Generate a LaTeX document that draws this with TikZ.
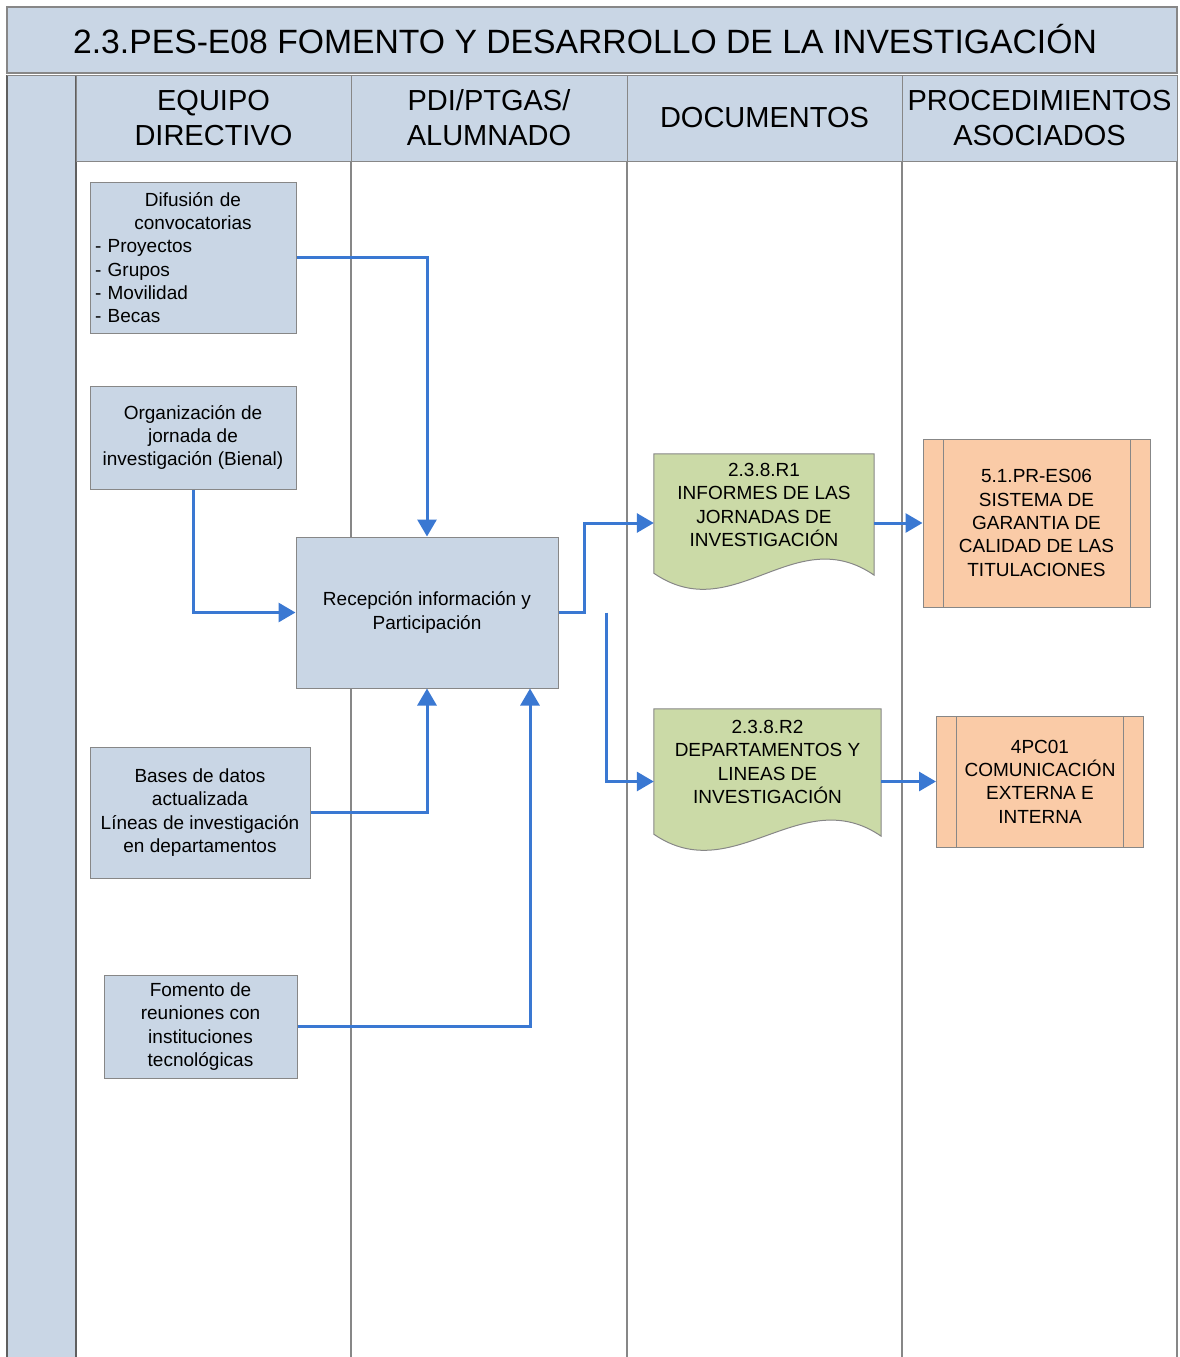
\documentclass[tikz,border=0pt]{standalone}
\usepackage{fontspec}
\setmainfont{Liberation Sans}
\usetikzlibrary{arrows.meta}
\definecolor{lanefill}{RGB}{201,214,229}
\definecolor{docfill}{RGB}{203,218,167}
\definecolor{procfill}{RGB}{250,203,167}
\definecolor{flowblue}{RGB}{58,120,210}
\definecolor{boxline}{RGB}{135,135,135}
\definecolor{laneline}{RGB}{95,95,95}
\newcommand{\boxfont}{\fontsize{19}{23.3}\selectfont}
\newcommand{\wavedoc}[3]{%
  \filldraw[draw=boxline, fill=docfill, line width=1pt] (#1.north west) -- (#1.north east)
    -- ([yshift=#2]#1.south east) .. controls +(-80pt,55pt) and +(80pt,-55pt) .. ([yshift=#3]#1.south west) -- cycle;}
\begin{document}
\begin{tikzpicture}[x=1pt, y=-1pt,
    actbox/.style={draw=boxline, fill=lanefill, line width=1pt, align=center, font=\boxfont, inner sep=5pt},
    procbox/.style={draw=boxline, fill=procfill, line width=1pt, align=center, font=\boxfont,
      path picture={
        \draw[boxline, line width=1pt] ([xshift=20pt]path picture bounding box.north west) -- ([xshift=20pt]path picture bounding box.south west);
        \draw[boxline, line width=1pt] ([xshift=-20pt]path picture bounding box.north east) -- ([xshift=-20pt]path picture bounding box.south east);}},
    doctext/.style={align=center, font=\boxfont, inner sep=0pt},
    header/.style={draw=boxline, fill=lanefill, line width=1pt, align=center, font=\fontsize{29}{35}\selectfont, inner sep=0pt},
    flow/.style={draw=flowblue, line width=3pt, -{Triangle[length=17pt,width=19pt]}}]
    \useasboundingbox (0,0) rectangle (1180,1357);

    % Marco y cabecera
    \fill[lanefill] (7,7) rectangle (1177,73);
    \draw[boxline, line width=1.2pt] (7,73) -- (7,7) -- (1177,7) -- (1177,73) -- cycle;
    \node[font=\fontsize{33.7}{40}\selectfont] (titulo) at (585,39) {2.3.PES-E08 FOMENTO Y DESARROLLO DE LA INVESTIGACIÓN};
    \fill[lanefill] (7,75) rectangle (76,1357);
    \draw[laneline, line width=1.5pt] (7,75) -- (7,1357);
    \draw[laneline, line width=1.5pt] (76,75) -- (76,1357);
    \draw[boxline, line width=1pt] (7,75) -- (76,75);

    \node[header, minimum width=275pt, minimum height=86pt] (hequipo) at (213.5,118) {EQUIPO\\DIRECTIVO};
    \node[header, minimum width=276pt, minimum height=86pt] (hpdi) at (489,118) {PDI/PTGAS/\\ALUMNADO};
    \node[header, minimum width=275pt, minimum height=86pt] (hdoc) at (764.5,118) {DOCUMENTOS};
    \node[header, minimum width=275pt, minimum height=86pt] (hproc) at (1039.5,118) {PROCEDIMIENTOS\\ASOCIADOS};
    \foreach \x in {351,627,902,1177}
        \draw[boxline, line width=1.2pt] (\x,161) -- (\x,1357);

    % Actividades
    \node[actbox, minimum width=206pt, minimum height=151pt, text width=196pt, align=left] (difusion) at (193,257.5)
        {{\centering Difusión de\\convocatorias\par}- Proyectos\\- Grupos\\- Movilidad\\- Becas};
    \node[actbox, minimum width=206pt, minimum height=103pt] (organiza) at (193,437.5) {Organización de\\jornada de\\investigación (Bienal)};
    \node[actbox, minimum width=262pt, minimum height=151pt] (recep) at (427,612.5) {Recepción información y\\Participación};
    \node[actbox, minimum width=220pt, minimum height=131pt] (bases) at (200,812.5) {Bases de datos\\actualizada\\Líneas de investigación\\en departamentos};
    \node[actbox, minimum width=193pt, minimum height=103pt] (fomento) at (200.5,1026.5) {Fomento de\\reuniones con\\instituciones\\tecnológicas};

    % Documentos
    \node[minimum width=220pt, minimum height=138pt, inner sep=0pt] (r1) at (764,523) {};
    \wavedoc{r1}{17pt}{19pt}
    \node[doctext] (r1t) at (764,505) {2.3.8.R1\\INFORMES DE LAS\\JORNADAS DE\\INVESTIGACIÓN};
    \node[minimum width=227pt, minimum height=145pt, inner sep=0pt] (r2) at (767.5,781.5) {};
    \wavedoc{r2}{18pt}{20pt}
    \node[doctext] (r2t) at (767.5,762) {2.3.8.R2\\DEPARTAMENTOS Y\\LINEAS DE\\INVESTIGACIÓN};

    % Procedimientos
    \node[procbox, minimum width=227pt, minimum height=168pt] (p1) at (1036.5,523) {5.1.PR-ES06\\SISTEMA DE\\GARANTIA DE\\CALIDAD DE LAS\\TITULACIONES};
    \node[procbox, minimum width=207pt, minimum height=131pt] (p2) at (1040,781.5) {4PC01\\COMUNICACIÓN\\EXTERNA E\\INTERNA};

    % Flujos
    \draw[flow] (difusion.east) -| (recep.north);
    \draw[flow] (organiza.south) |- (recep.west);
    \draw[flow] (bases.east) -| (recep.south);
    \draw[flow] (fomento.east) -| ([xshift=103pt]recep.south);
    \coordinate (codo) at (584,612.5);
    \draw[flow] (recep.east) -- (codo) |- (r1.west);
    \coordinate (salida) at (606,612.5);
    \draw[flow] (salida) |- (r2.west);
    \draw[flow] (r1.east) -- (p1.west);
    \draw[flow] (r2.east) -- (p2.west);
\end{tikzpicture}
\end{document}
